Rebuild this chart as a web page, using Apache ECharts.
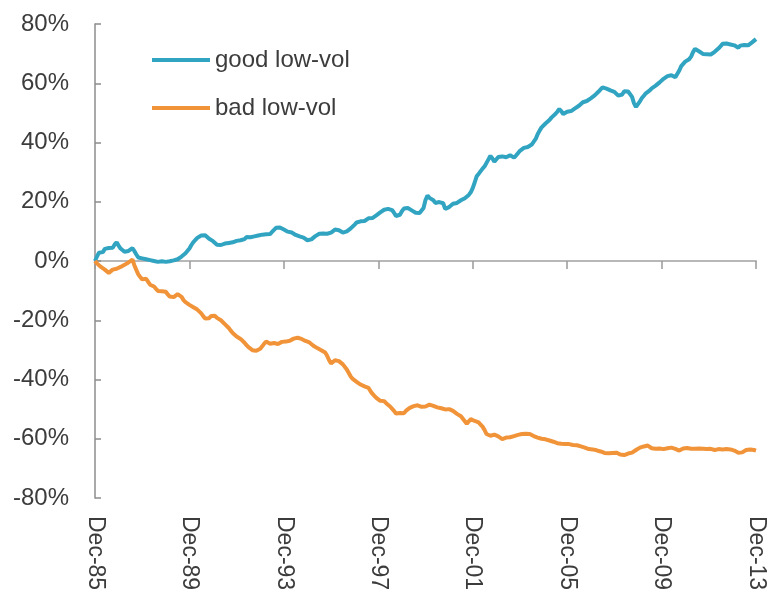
<!DOCTYPE html>
<html>
<head>
<meta charset="utf-8">
<script src="https://cdn.jsdelivr.net/npm/echarts@6/dist/echarts.min.js"></script>
<style>
  html, body { margin: 0; padding: 0; background: #fff; }
  #chart { width: 770px; height: 594px; }
</style>
</head>
<body>
<div id="chart"></div>
<script>
// Cumulative performance, monthly from Dec-85 (index 0) to Dec-13 (index 336), in %.
const seriesNames = ['good low-vol', 'bad low-vol'];

const goodLowVol = [
  0,
  1.5, 2.8, 3.4, 3.0, 4.1, 3.6, 4.4, 4.9, 4.5, 5.6, 6.3, 5.2,
  4.2, 3.6, 3.1, 2.8, 3.4, 3.9, 4.3, 3.4, 2.2, 1.2, 1.6, 0.9,
  1.2, 0.6, 0.9, 0.3, 0.5, 0.0, 0.2, -0.3, -0.5, -0.1, -0.6, -0.3,
  -0.5, -0.1, -0.3, 0.2, 0.1, 0.6, 0.9, 1.5, 1.8, 2.6, 3.1, 4.2,
  5.4, 6.4, 6.9, 7.8, 8.3, 8.6, 8.1, 8.7, 8.4, 7.5, 7.2, 6.7,
  6.1, 5.5, 5.8, 5.4, 6.0, 5.9, 6.4, 6.1, 6.6, 6.3, 6.9, 6.8,
  7.2, 7.0, 7.6, 7.4, 8.1, 7.8, 8.0, 7.7, 8.3, 8.1, 8.6, 8.4,
  8.9, 9.3, 9.0, 9.5, 9.1, 9.8, 10.5, 11.2, 10.9, 11.3, 10.8, 10.6,
  10.2, 9.9, 9.5, 9.6, 9.0, 8.8, 8.9, 8.3, 8.5, 7.9, 7.4, 7.0,
  6.8, 7.3, 7.9, 8.4, 8.8, 9.2, 8.9, 9.3, 9.6, 9.2, 9.8, 9.6,
  10.1, 10.6, 10.9, 10.4, 9.9, 9.6, 10.2, 10.0, 10.6, 11.0, 11.6, 12.3,
  13.0, 12.8, 13.4, 13.7, 13.5, 14.1, 14.4, 14.8, 14.5, 15.0, 15.4, 15.9,
  16.4, 16.9, 17.3, 17.0, 17.6, 17.8, 17.2, 16.3, 15.2, 14.6, 15.6, 16.8,
  17.7, 18.2, 17.9, 17.5, 17.1, 16.6, 16.3, 16.0, 16.2, 15.8, 17.9, 20.6,
  22.1, 21.3, 21.6, 20.5, 19.6, 19.2, 19.9, 20.4, 19.5, 17.6, 17.1, 18.2,
  18.8, 19.3, 19.8, 19.6, 20.2, 20.5, 20.9, 21.2, 21.6, 22.3, 23.2, 24.6,
  26.5, 28.6, 29.4, 30.0, 31.2, 31.9, 32.4, 34.3, 35.5, 34.6, 33.5, 34.0,
  35.1, 35.6, 35.3, 34.8, 35.0, 35.4, 35.7, 35.2, 34.9, 35.6, 36.4, 37.2,
  37.6, 38.2, 38.8, 38.5, 39.0, 39.3, 39.6, 41.2, 42.8, 44.0, 45.1, 45.7,
  46.4, 47.0, 47.6, 48.4, 49.0, 49.6, 50.4, 51.3, 50.6, 49.6, 50.1, 50.4,
  50.8, 50.6, 51.2, 51.5, 51.9, 52.4, 52.9, 53.6, 53.3, 54.0, 54.5, 54.9,
  55.4, 55.9, 56.4, 57.2, 57.9, 58.6, 58.8, 58.2, 58.0, 57.6, 57.9, 57.1,
  56.5, 55.8, 55.3, 56.2, 57.3, 57.6, 57.2, 57.5, 55.4, 53.2, 52.0, 51.8,
  53.9, 55.0, 55.8, 56.6, 57.1, 57.6, 58.3, 58.7, 59.2, 59.8, 60.3, 60.9,
  61.5, 62.0, 62.4, 62.2, 62.7, 62.5, 62.0, 62.6, 64.3, 65.8, 66.4, 67.3,
  67.7, 68.1, 69.0, 70.5, 71.6, 71.2, 70.8, 70.3, 69.9, 69.5, 69.8, 69.3,
  69.7, 70.2, 70.6, 71.0, 71.8, 72.5, 73.3, 73.8, 73.4, 73.6, 73.1, 73.3,
  72.8, 72.6, 72.0, 72.7, 73.2, 72.9, 72.5, 72.8, 73.3, 73.8, 74.3, 74.9
];

const badLowVol = [
  0,
  -0.8, -1.4, -2.0, -2.6, -2.9, -3.4, -4.0, -4.3, -2.9, -3.2, -2.6, -2.3,
  -2.0, -1.6, -1.3, -0.9, -0.5, 0.1, 0.5, -1.4, -3.0, -4.5, -5.4, -6.2,
  -6.6, -6.0, -6.4, -8.0, -8.4, -8.6, -9.4, -10.1, -10.6, -10.2, -9.6, -10.4,
  -11.3, -12.0, -12.6, -12.2, -11.7, -11.2, -11.0, -12.1, -13.2, -13.9, -14.3, -14.8,
  -15.1, -15.6, -15.9, -16.4, -16.8, -17.7, -18.6, -19.4, -20.0, -19.3, -18.6, -18.3,
  -18.5, -19.2, -19.6, -20.0, -20.6, -21.3, -21.9, -22.6, -23.5, -24.3, -24.9, -25.5,
  -25.9, -26.3, -26.7, -27.6, -28.4, -29.1, -29.6, -30.1, -29.7, -30.3, -29.9, -29.6,
  -28.8, -27.9, -27.2, -27.5, -27.9, -28.3, -27.7, -28.1, -28.0, -27.6, -27.3, -27.1,
  -27.2, -26.8, -26.9, -26.5, -26.2, -26.4, -25.9, -25.8, -26.3, -26.8, -27.0, -27.3,
  -27.5, -28.0, -28.6, -29.0, -29.4, -29.8, -30.1, -30.5, -30.9, -32.0, -33.5, -34.6,
  -34.2, -33.5, -33.1, -33.8, -34.4, -34.9, -35.4, -36.6, -37.8, -39.0, -39.8, -40.3,
  -40.8, -41.4, -41.7, -41.9, -42.3, -42.5, -42.8, -43.9, -44.8, -45.5, -46.2, -46.8,
  -47.2, -47.0, -47.3, -48.0, -48.6, -49.1, -49.5, -50.6, -51.5, -51.7, -51.3, -51.6,
  -51.4, -50.6, -50.0, -49.6, -49.3, -49.0, -48.9, -48.7, -49.0, -49.2, -49.5, -49.1,
  -48.8, -48.5, -48.6, -48.9, -49.1, -49.4, -49.3, -49.7, -50.0, -50.1, -49.9, -50.0,
  -50.1, -50.6, -51.1, -51.6, -52.0, -52.4, -52.9, -54.1, -55.0, -54.1, -53.4, -53.8,
  -54.0, -54.3, -54.5, -55.2, -55.9, -57.0, -58.4, -58.7, -59.0, -58.8, -58.6, -58.4,
  -59.2, -59.8, -60.1, -59.8, -59.6, -59.7, -59.5, -59.3, -59.1, -59.0, -58.7, -58.5,
  -58.4, -58.6, -58.3, -58.5, -58.4, -58.8, -59.1, -59.4, -59.6, -59.8, -60.0, -60.1,
  -60.2, -60.4, -60.6, -60.7, -61.0, -61.3, -61.5, -61.8, -61.7, -61.9, -61.8, -61.9,
  -61.8, -62.0, -62.1, -62.3, -62.2, -62.3, -62.6, -62.8, -63.0, -63.3, -63.5, -63.4,
  -63.6, -63.8, -63.9, -64.0, -64.3, -64.5, -64.8, -64.6, -64.9, -65.1, -64.8, -64.6,
  -64.7, -65.0, -65.3, -65.2, -65.5, -65.3, -65.0, -64.9, -64.7, -64.4, -63.8, -63.3,
  -63.0, -62.9, -62.6, -62.4, -62.3, -62.8, -63.2, -63.5, -63.4, -63.6, -63.3, -63.5,
  -63.5, -63.3, -63.2, -63.1, -63.0, -62.9, -63.4, -63.8, -64.0, -63.6, -63.3, -63.2,
  -63.1, -63.3, -63.4, -63.6, -63.4, -63.5, -63.3, -63.6, -63.4, -63.7, -63.5, -63.6,
  -63.4, -63.6, -63.8, -63.7, -63.5, -63.8, -63.6, -63.4, -63.5, -63.7, -63.6, -63.8,
  -64.0, -64.3, -64.7, -65.1, -64.6, -64.0, -63.8, -63.7, -63.6, -63.5, -63.8, -64.0
];

// One tick every four years (48 months)
const xTickLabels = ['Dec-85', 'Dec-89', 'Dec-93', 'Dec-97', 'Dec-01', 'Dec-05', 'Dec-09', 'Dec-13'];
const yTicks = [-80, -60, -40, -20, 0, 20, 40, 60, 80];

const monthsPerTick = 48;
const lastMonth = monthsPerTick * (xTickLabels.length - 1);
const textColor = '#3c3c3c';
const fontFamily = '"Liberation Sans", Arial, sans-serif';

const chart = echarts.init(document.getElementById('chart'), null, { renderer: 'canvas' });

chart.setOption({
  animation: false,
  backgroundColor: '#fff',
  grid: { left: 95, right: 14, top: 24, bottom: 96, containLabel: false },
  legend: {
    orient: 'vertical',
    left: 147,
    top: 42,
    itemWidth: 58,
    itemHeight: 4,
    itemGap: 22,
    icon: 'rect',
    data: seriesNames,
    textStyle: { color: textColor, fontSize: 24, lineHeight: 26, fontFamily: fontFamily }
  },
  xAxis: [
    {
      // labels along the bottom of the plot
      type: 'value',
      position: 'bottom',
      min: 0,
      max: lastMonth,
      interval: monthsPerTick,
      axisLine: { show: false, onZero: false },
      axisTick: { show: false },
      splitLine: { show: false },
      axisLabel: {
        rotate: -90,
        margin: 18,
        color: textColor,
        fontSize: 23,
        fontFamily: fontFamily,
        formatter: v => xTickLabels[Math.round(v / monthsPerTick)]
      }
    },
    {
      // axis line and ticks sitting on the zero level
      type: 'value',
      position: 'bottom',
      min: 0,
      max: lastMonth,
      interval: monthsPerTick,
      axisLine: { show: true, onZero: true, onZeroAxisIndex: 0, lineStyle: { color: '#b8b8b8', width: 2 } },
      axisTick: { show: true, length: 8, lineStyle: { color: '#999', width: 1.5 } },
      axisLabel: { show: false },
      splitLine: { show: false }
    }
  ],
  yAxis: {
    type: 'value',
    min: yTicks[0],
    max: yTicks[yTicks.length - 1],
    interval: yTicks[1] - yTicks[0],
    axisLine: { show: true, lineStyle: { color: '#8c8c8c', width: 1.5 } },
    axisTick: { show: true, inside: true, length: 6, lineStyle: { color: '#8c8c8c', width: 1.5 } },
    splitLine: { show: false },
    axisLabel: {
      margin: 26,
      color: textColor,
      fontSize: 24,
      fontFamily: fontFamily,
      formatter: '{value}%'
    }
  },
  series: [
    {
      name: seriesNames[0],
      type: 'line',
      xAxisIndex: 0,
      showSymbol: false,
      symbol: 'none',
      color: '#31a4c2',
      lineStyle: { width: 4, color: '#31a4c2' },
      data: goodLowVol.map((v, i) => [i, v])
    },
    {
      name: seriesNames[1],
      type: 'line',
      xAxisIndex: 0,
      showSymbol: false,
      symbol: 'none',
      color: '#f19338',
      lineStyle: { width: 4, color: '#f19338' },
      data: badLowVol.map((v, i) => [i, v])
    }
  ]
});
</script>
</body>
</html>
